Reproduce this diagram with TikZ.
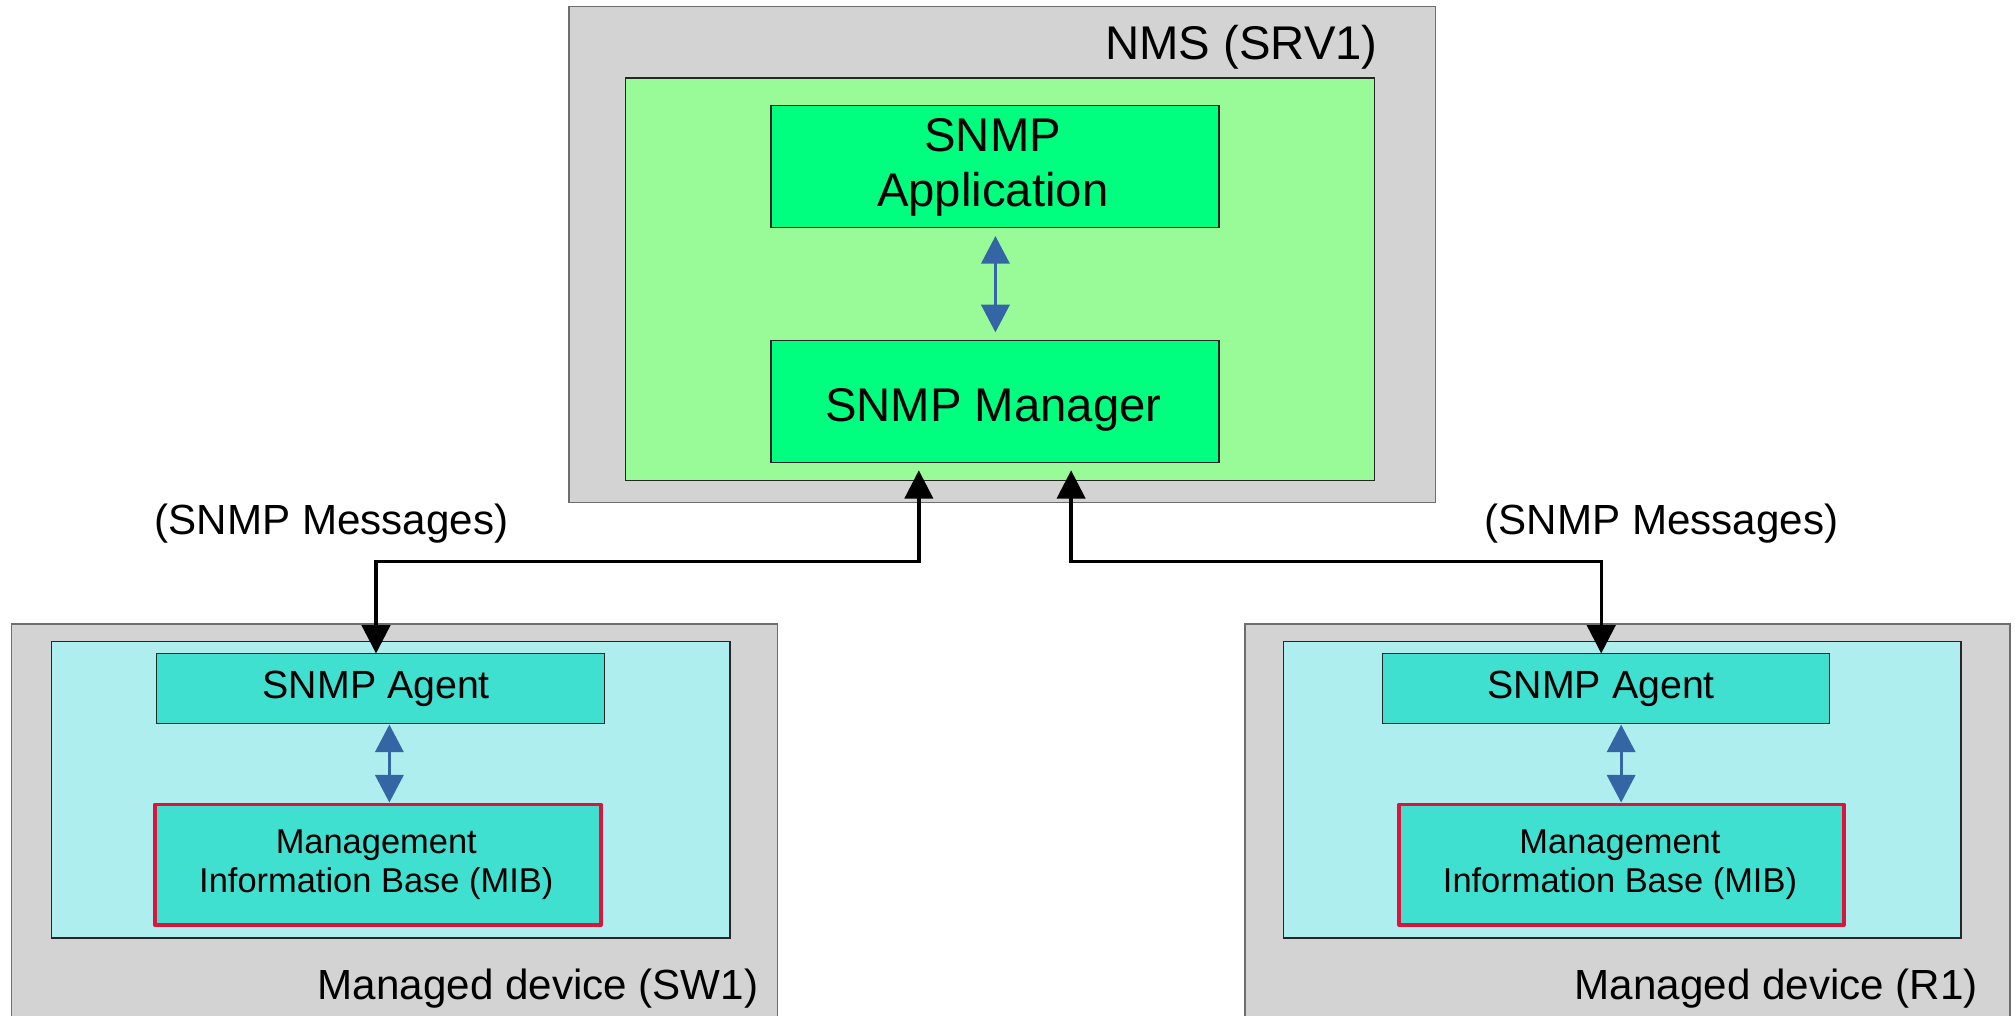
\documentclass[tikz,border=0pt]{standalone}
\usepackage{fontspec}
\setmainfont{Liberation Sans}
\usetikzlibrary{arrows.meta}
\definecolor{outergray}{HTML}{D3D3D3}
\definecolor{outeredge}{HTML}{6E6E6E}
\definecolor{palegr}{HTML}{98FB98}
\definecolor{springgr}{HTML}{00FF7F}
\definecolor{paleturq}{HTML}{AFEEEE}
\definecolor{turq}{HTML}{40E0D0}
\definecolor{crim}{HTML}{DC143C}
\definecolor{arrowblue}{HTML}{3465A4}
\tikzset{
  box/.style={rectangle, draw, outer sep=0pt, inner sep=0pt, anchor=north west},
  device/.style={box, fill=outergray, draw=outeredge, line width=1.4pt},
  panelgreen/.style={box, fill=palegr, draw=black!85, line width=1pt},
  panelcyan/.style={box, fill=paleturq, draw=black!85, line width=1pt},
  nmsbox/.style={box, fill=springgr, draw=black!85, line width=1pt},
  agentbox/.style={box, fill=turq, draw=black!85, line width=1pt},
  mibbox/.style={box, fill=turq, draw=crim, line width=2.7pt, line join=round},
  txt/.style={inner sep=0pt, outer sep=0pt, text=black},
  bigtxt/.style={txt, font=\fontsize{36.8pt}{42.3pt}\selectfont},
  midtxt/.style={txt, font=\fontsize{32.8pt}{38pt}\selectfont},
  agtxt/.style={txt, font=\fontsize{30.6pt}{35pt}\selectfont},
  mibtxt/.style={txt, font=\fontsize{26.8pt}{30.6pt}\selectfont},
  msgline/.style={draw=black, line width=2.6pt,
    {Triangle[length=22pt,width=22pt]}-{Triangle[length=22pt,width=22pt]}},
  bluelink/.style={draw=arrowblue, line width=2.2pt,
    {Triangle[length=21.5pt,width=22pt]}-{Triangle[length=21.5pt,width=22pt]}},
}
\begin{document}
\begin{tikzpicture}[x=1pt, y=-1pt]
\useasboundingbox (0,0) rectangle (1568,790);
\clip (0,0) rectangle (1568,790);

% NMS
\node[device, minimum width=674pt, minimum height=386pt] (nms) at (443,5) {};
\node[panelgreen, minimum width=583pt, minimum height=313pt] (nmsin) at (486.6,60.7) {};
\node[nmsbox, minimum width=348.6pt, minimum height=95pt] (app) at (600,82) {};
\node[nmsbox, minimum width=348.6pt, minimum height=95pt] (mgr) at (600,265) {};
\node[bigtxt, anchor=base east] (nmsT) at (1072,46) {NMS (SRV1)};
\node[bigtxt, align=center, anchor=center] (appT) at (772.5,130.2) {SNMP\\Application};
\node[bigtxt, anchor=base] (mgrT) at (773,328) {SNMP Manager};

% left device
\node[device, minimum width=596pt, minimum height=400pt] (devL) at (9,485.5) {};
\node[panelcyan, minimum width=528pt, minimum height=231pt] (inL) at (40,499) {};
\node[agentbox, minimum width=348.5pt, minimum height=54.5pt] (agL) at (122,508.5) {};
\node[mibbox, minimum width=347pt, minimum height=94pt] (mibL) at (120.6,625.9) {};
\node[agtxt, anchor=base] (agLT) at (292.8,543.5) {SNMP Agent};
\node[mibtxt, align=center, anchor=center] (mibLT) at (292.8,673) {Management\\Information Base (MIB)};
\node[midtxt, anchor=base east] (devLT) at (590,778) {Managed device (SW1)};

% right device
\node[device, minimum width=595.5pt, minimum height=400pt] (devR) at (968.5,485.5) {};
\node[panelcyan, minimum width=527pt, minimum height=231pt] (inR) at (999,499) {};
\node[agentbox, minimum width=347.5pt, minimum height=54.5pt] (agR) at (1076,508.5) {};
\node[mibbox, minimum width=346pt, minimum height=94pt] (mibR) at (1088.8,625.9) {};
\node[agtxt, anchor=base] (agRT) at (1246,543.5) {SNMP Agent};
\node[mibtxt, align=center, anchor=center] (mibRT) at (1260.6,673) {Management\\Information Base (MIB)};
\node[midtxt, anchor=base east] (devRT) at (1539,778) {Managed device (R1)};

% message labels
\node[midtxt, anchor=base] (msgL) at (258,416) {(SNMP Messages)};
\node[midtxt, anchor=base] (msgR) at (1293,416) {(SNMP Messages)};

% connector end points
\coordinate (m1) at (715,366);
\coordinate (m2) at (833.5,366);
\coordinate (aL) at (292.6,508.5);
\coordinate (aR) at (1246,508.5);
\coordinate (b1) at (774.6,183.7);
\coordinate (b2) at (774.6,258.6);
\coordinate (bL1) at (303,563.8);
\coordinate (bL2) at (303,624.5);
\coordinate (bR1) at (1261.5,563.8);
\coordinate (bR2) at (1261.5,624.5);

% SNMP message connectors
\draw[msgline] (m1) -- ++(0,71) -| (aL);
\draw[msgline] (m2) -- ++(0,71) -| (aR);

% internal links
\draw[bluelink] (b1) -- (b2);
\draw[bluelink] (bL1) -- (bL2);
\draw[bluelink] (bR1) -- (bR2);
\end{tikzpicture}
\end{document}
